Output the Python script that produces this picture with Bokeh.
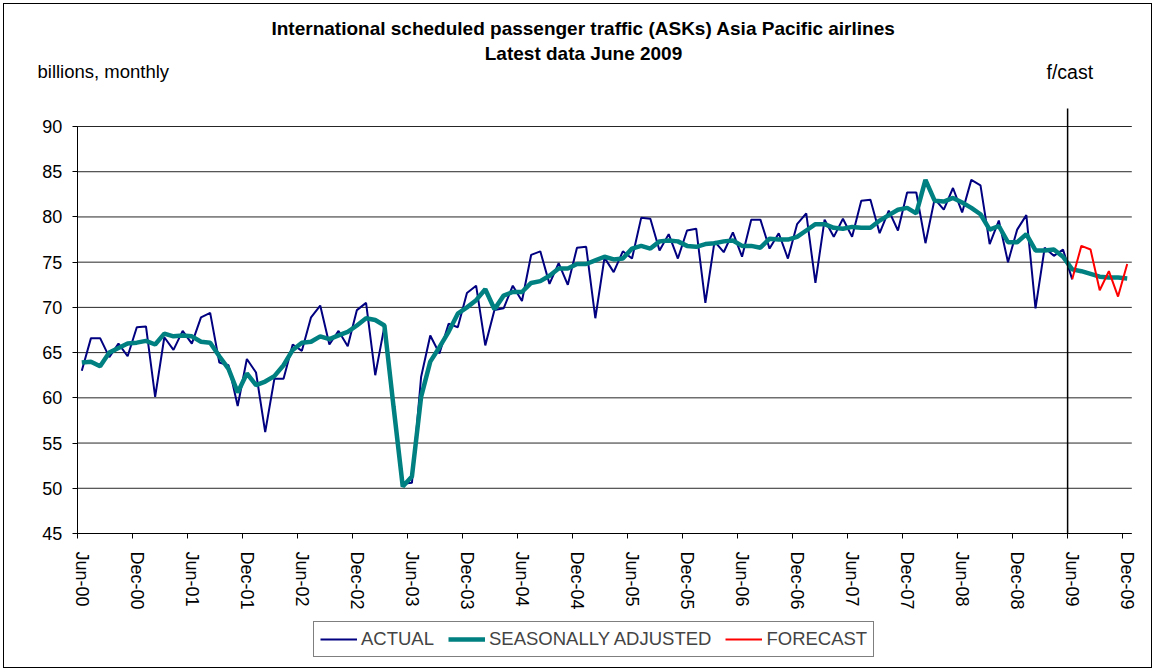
import numpy as np
from bokeh.plotting import figure
from bokeh.models import Range1d, FixedTicker, Label, Legend, LegendItem
from bokeh.embed import file_html
from bokeh.resources import INLINE

# ---------------- data (billions ASKs, monthly, Jun-00 .. Dec-09) ----------------
actual = [
    63.0, 66.6, 66.6, 64.5, 66.0, 64.6, 67.8, 67.9, 60.1, 66.7, 65.3, 67.4,   # Jun-00..May-01
    66.0, 68.9, 69.4, 63.9, 63.6, 59.1, 64.3, 62.8, 56.2, 62.1, 62.1, 65.9,   # Jun-01..May-02
    65.2, 68.9, 70.2, 65.9, 67.4, 65.7, 69.7, 70.5, 62.5, 67.9, 59.0, 50.5,   # Jun-02..May-03
    50.6, 62.3, 66.9, 64.9, 68.2, 67.8, 71.6, 72.4, 65.8, 69.7, 69.9, 72.4,   # Jun-03..May-04
    70.7, 75.8, 76.2, 72.6, 74.9, 72.5, 76.6, 76.7, 68.8, 75.5, 73.9, 76.2,   # Jun-04..May-05
    75.4, 79.9, 79.8, 76.3, 78.1, 75.4, 78.5, 78.7, 70.5, 77.3, 76.1, 78.3,   # Jun-05..May-06
    75.6, 79.7, 79.7, 76.5, 78.2, 75.4, 79.2, 80.4, 72.7, 79.7, 77.8, 79.8,   # Jun-06..May-07
    77.8, 81.8, 81.9, 78.2, 80.7, 78.5, 82.7, 82.7, 77.1, 82.0, 80.8, 83.2,   # Jun-07..May-08
    80.5, 84.1, 83.5, 77.0, 79.6, 75.0, 78.6, 80.2, 69.9, 76.6, 75.7, 76.4,   # Jun-08..May-09
    73.1,                                                                     # Jun-09
]

seasonally_adjusted = [
    63.9, 64.0, 63.5, 65.0, 65.5, 66.0, 66.1, 66.3, 65.9, 67.1, 66.8, 66.9,
    66.8, 66.2, 66.1, 64.6, 63.2, 60.6, 62.7, 61.4, 61.8, 62.4, 63.6, 65.3,
    66.1, 66.2, 66.8, 66.5, 66.9, 67.3, 68.0, 68.8, 68.6, 68.0, 59.0, 50.2,
    51.3, 60.1, 64.0, 65.6, 67.3, 69.3, 70.0, 70.8, 72.0, 69.8, 71.3, 71.7,
    71.7, 72.7, 72.9, 73.5, 74.3, 74.3, 74.8, 74.8, 75.2, 75.6, 75.3, 75.4,
    76.5, 76.8, 76.5, 77.3, 77.4, 77.3, 76.8, 76.7, 77.0, 77.1, 77.3, 77.4,
    76.8, 76.8, 76.6, 77.6, 77.5, 77.5, 77.8, 78.5, 79.2, 79.2, 78.8, 78.7,
    78.9, 78.8, 78.8, 79.6, 80.2, 80.8, 81.0, 80.4, 84.1, 81.8, 81.7, 82.1,
    81.6, 81.0, 80.3, 78.6, 79.0, 77.2, 77.2, 78.1, 76.3, 76.3, 76.4, 75.6,
    74.2, 74.0, 73.7, 73.4, 73.3, 73.3, 73.2,
]

# forecast starts at the last actual month (Jun-09) and runs to Dec-09
forecast = [73.1, 76.8, 76.4, 71.9, 74.0, 71.2, 74.8]

tick_labels = ["Jun-00", "Dec-00", "Jun-01", "Dec-01", "Jun-02", "Dec-02",
               "Jun-03", "Dec-03", "Jun-04", "Dec-04", "Jun-05", "Dec-05",
               "Jun-06", "Dec-06", "Jun-07", "Dec-07", "Jun-08", "Dec-08",
               "Jun-09", "Dec-09"]
y_ticks = [45, 50, 55, 60, 65, 70, 75, 80, 85, 90]

# ---------------- positions (category index) ----------------
n = len(seasonally_adjusted)
x_actual = list(range(len(actual)))
x_sa = list(range(n))
fc_start = len(actual) - 1
x_fc = list(range(fc_start, fc_start + len(forecast)))
tick_pos = [6 * k for k in range(len(tick_labels))]
x_lo, x_hi = -0.5, n - 0.5
y_lo, y_hi = y_ticks[0], y_ticks[-1]

# ---------------- layout (page pixels) ----------------
W, H = 1149, 665            # canvas size; whole canvas is the plot frame
CANVAS_X, CANVAS_Y = 4, 4   # canvas top-left on the page (3px margin + 1px border)
AX_L, AX_R, AX_T, AX_B = 76.7, 1131.3, 126.0, 533.0   # axes box on the page
ppx = (AX_R - AX_L) / (x_hi - x_lo)
ppy = (AX_B - AX_T) / (y_hi - y_lo)
xr0 = x_lo - (AX_L - CANVAS_X) / ppx
yr1 = y_hi + (AX_T - CANVAS_Y) / ppy

def sx(page_x):
    return page_x - CANVAS_X

def sy(page_y):
    return CANVAS_Y + H - page_y

FONT = "Liberation Sans"

p = figure(width=W, height=H, output_backend="svg", toolbar_location=None,
           x_range=Range1d(xr0, xr0 + W / ppx), y_range=Range1d(yr1 - H / ppy, yr1),
           min_border=0, min_border_left=0, min_border_right=0,
           min_border_top=0, min_border_bottom=0, outline_line_color=None,
           background_fill_color="white", border_fill_color="white")
p.styles = {"border": "1px solid black", "margin-left": "3px", "margin-top": "3px"}

p.xgrid.grid_line_color = None
p.ygrid.grid_line_color = None

# horizontal gridlines across the axes box only
p.segment(x0=[x_lo] * len(y_ticks), x1=[x_hi] * len(y_ticks), y0=y_ticks, y1=y_ticks,
          line_color="black", line_width=1, line_alpha=0.85)

# x axis: labels at category centres, tick marks at category boundaries
xa = p.xaxis[0]
xa.fixed_location = y_lo
xa.bounds = (x_lo, x_hi)
xa.ticker = FixedTicker(ticks=tick_pos, minor_ticks=[t - 0.5 for t in tick_pos])
xa.major_label_overrides = {t: lab for t, lab in zip(tick_pos, tick_labels)}
xa.major_label_orientation = "vertical"
xa.major_tick_out = 0
xa.major_tick_in = 0
xa.minor_tick_out = 5
xa.minor_tick_in = 0
xa.minor_tick_line_color = "black"
xa.major_label_standoff = 13

ya = p.yaxis[0]
ya.fixed_location = x_lo
ya.bounds = (y_lo, y_hi)
ya.ticker = FixedTicker(ticks=y_ticks, minor_ticks=[])
ya.major_tick_out = 5
ya.major_tick_in = 0
ya.minor_tick_line_color = None
ya.major_label_standoff = 10

for ax in (xa, ya):
    ax.axis_line_color = "black"
    ax.axis_line_width = 1
    ax.major_tick_line_color = "black"
    ax.major_label_text_font = FONT
    ax.major_label_text_font_size = "18px"
    ax.major_label_text_color = "black"

# series
r_act = p.line(x_actual, actual, line_color="#000080", line_width=2)
r_sa = p.line(x_sa, seasonally_adjusted, line_color="#008080", line_width=4.5)
r_fc = p.line(x_fc, forecast, line_color="#FF0000", line_width=2)

# forecast divider (boundary before Jun-09), running a little above the axes box
p.segment(x0=[fc_start - 0.5], x1=[fc_start - 0.5], y0=[y_lo], y1=[y_hi + 2],
          line_color="black", line_width=1.5)

def lab(text, px, py, align="left", bold=False, size="18px"):
    p.add_layout(Label(x=sx(px), y=sy(py), x_units="screen", y_units="screen", text=text,
                       text_font=FONT, text_font_size=size,
                       text_font_style="bold" if bold else "normal",
                       text_align=align, text_baseline="middle", text_color="black"))

lab("International scheduled passenger traffic (ASKs) Asia Pacific airlines", 583, 28, "center", True, "19px")
lab("Latest data June 2009", 583, 53, "center", True, "19px")
lab("billions, monthly", 37, 71, size="18.5px")
lab("f/cast", 1046, 71, size="19.5px")

legend = Legend(items=[LegendItem(label="ACTUAL", renderers=[r_act]),
                       LegendItem(label="SEASONALLY ADJUSTED", renderers=[r_sa]),
                       LegendItem(label="FORECAST", renderers=[r_fc])],
                orientation="horizontal", location=(sx(313), sy(657)),
                border_line_color="black", border_line_width=1,
                label_text_font=FONT, label_text_font_size="18.5px",
                glyph_width=37, glyph_height=20, label_height=20, label_standoff=4,
                spacing=14, padding=6, margin=0,
                background_fill_color="white", background_fill_alpha=1.0)
p.add_layout(legend)

open("out.html", "w").write(file_html(p, INLINE))
